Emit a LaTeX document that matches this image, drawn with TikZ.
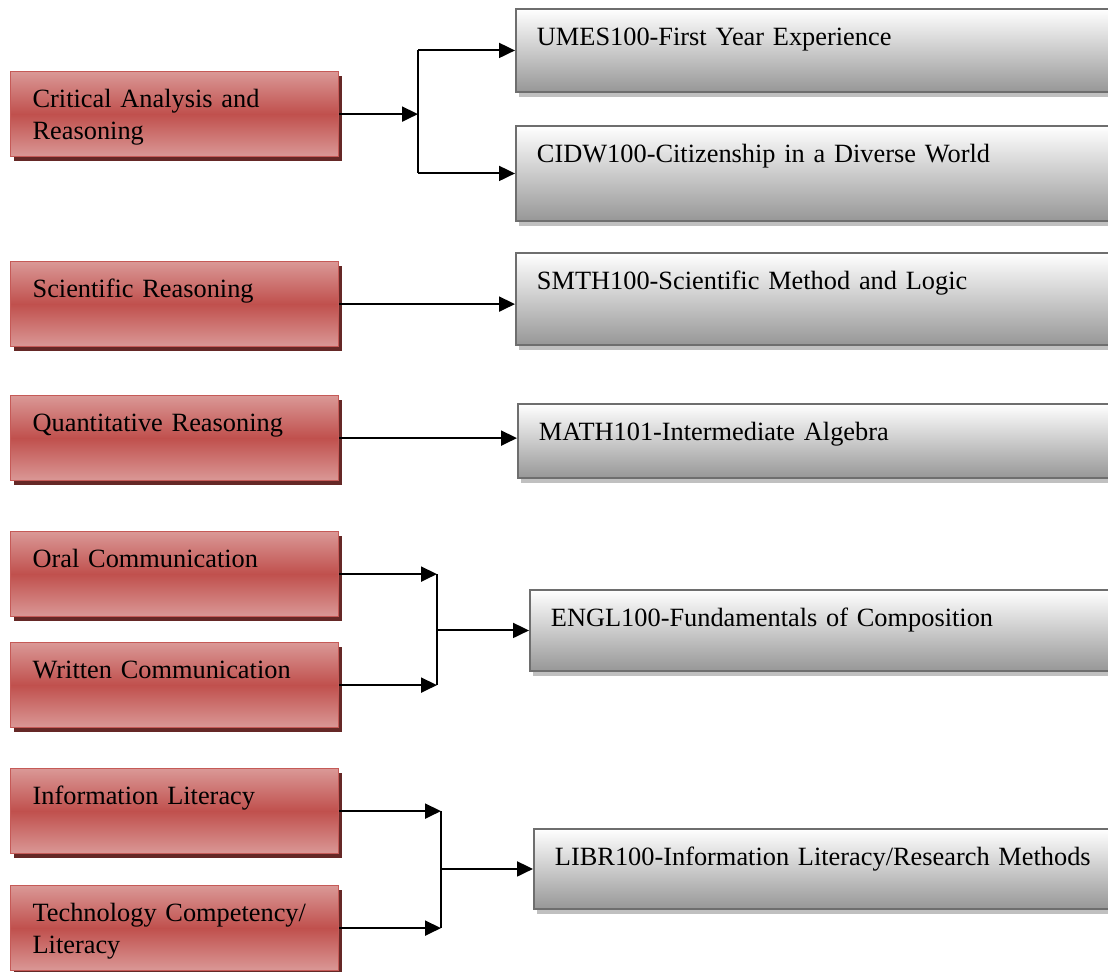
\documentclass[tikz,border=0pt]{standalone}
\usepackage{fontspec}
\setmainfont{Liberation Serif}
\usepackage{xcolor}
\usepackage{tikz}
\usetikzlibrary{arrows.meta, shadows}

\definecolor{redlight}{HTML}{DA9896}
\definecolor{redmid}{HTML}{C0504D}
\definecolor{redborder}{HTML}{C55A57}
\definecolor{redshadow}{HTML}{652826}
\definecolor{greybot}{HTML}{979797}
\definecolor{greyborder}{HTML}{6E6E6E}
\definecolor{greyshadow}{HTML}{C0C0C0}

\tikzstyle{skill} = [rectangle, anchor=north west, draw=redborder, line width=0.7pt, inner xsep=0.44cm, inner ysep=0pt, text width=5.68cm, align=left, text height=0.72cm, text depth=0.98cm, top color=redlight, bottom color=redlight, middle color=redmid, drop shadow={shadow xshift=0.07cm, shadow yshift=-0.08cm, fill=redshadow, opacity=1}, font=\fontsize{15}{18.2}\selectfont]
\tikzstyle{course} = [rectangle, anchor=north west, draw=greyborder, line width=1.1pt, inner xsep=0.42cm, inner ysep=0pt, text width=11.4cm, align=left, text height=0.74cm, top color=white, bottom color=greybot, drop shadow={shadow xshift=0.06cm, shadow yshift=-0.1cm, fill=greyshadow, opacity=1}, font=\fontsize{15}{18.2}\selectfont]
\tikzstyle{link} = [-{Triangle[length=0.32cm, width=0.3cm]}, line width=1.1pt]

\begin{document}
\begin{tikzpicture}[x=0.02cm, y=-0.02cm]
    \useasboundingbox (0,0) rectangle (1108,972);
    \clip (0,0) rectangle (1108,972);

    %% competences
    \node (crit) [skill] at (10,71) {Critical Analysis and\\Reasoning};
    \node (sci) [skill] at (10,261) {Scientific Reasoning};
    \node (quant) [skill] at (10,395) {Quantitative Reasoning};
    \node (oral) [skill] at (10,531) {Oral Communication};
    \node (written) [skill] at (10,642) {Written Communication};
    \node (info) [skill] at (10,768) {Information Literacy};
    \node (tech) [skill] at (10,885) {Technology Competency/\\Literacy};

    %% cours
    \node (umes) [course, text depth=0.92cm] at (515,8) {UMES100-First Year Experience};
    \node (cidw) [course, text depth=1.16cm] at (515,125) {CIDW100-Citizenship in a Diverse World};
    \node (smth) [course, text depth=1.1cm] at (515,252) {SMTH100-Scientific Method and Logic};
    \node (math) [course, text depth=0.74cm] at (517,403) {MATH101-Intermediate Algebra};
    \node (engl) [course, text depth=0.88cm] at (529,589) {ENGL100-Fundamentals of Composition};
    \node (libr) [course, text depth=0.86cm] at (533,828) {LIBR100-Information Literacy/Research Methods};

    %% critical analysis -> umes, cidw
    \coordinate (fork1) at (418,0);
    \draw[link] (crit.east) -- (fork1 |- crit.east);
    \draw[line width=1.1pt] (fork1 |- umes.west) -- (fork1 |- cidw.west);
    \draw[link] (fork1 |- umes.west) -- (umes.west);
    \draw[link] (fork1 |- cidw.west) -- (cidw.west);

    %% scientific, quantitative
    \draw[link] (sci.east) -- (smth.west |- sci.east);
    \draw[link] (quant.east) -- (math.west |- quant.east);

    %% oral, written -> engl
    \coordinate (fork2) at (437,0);
    \draw[link] (oral.east) -- (fork2 |- oral.east);
    \draw[link] (written.east) -- (fork2 |- written.east);
    \draw[line width=1.1pt] (fork2 |- oral.east) -- (fork2 |- written.east);
    \draw[link] (fork2 |- engl.west) -- (engl.west);

    %% info, tech -> libr
    \coordinate (fork3) at (441,0);
    \draw[link] (info.east) -- (fork3 |- info.east);
    \draw[link] (tech.east) -- (fork3 |- tech.east);
    \draw[line width=1.1pt] (fork3 |- info.east) -- (fork3 |- tech.east);
    \draw[link] (fork3 |- libr.west) -- (libr.west);
\end{tikzpicture}
\end{document}
